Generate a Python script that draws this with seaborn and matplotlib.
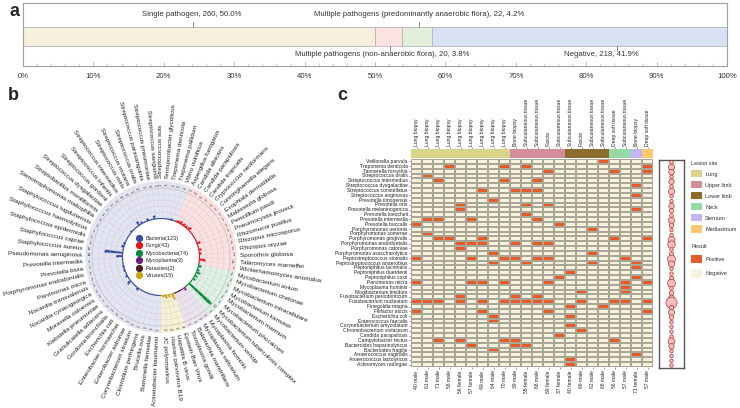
import numpy as np
import pandas as pd
import matplotlib
matplotlib.use('Agg')
import matplotlib.pyplot as plt
import seaborn as sns
from matplotlib.colors import ListedColormap
from matplotlib.patches import Patch
from matplotlib.lines import Line2D
from matplotlib.ticker import MultipleLocator

sns.set_style('white')
plt.rcParams['font.family'] = ['Liberation Sans', 'DejaVu Sans']

# ---------------- data: panel a ----------------
a_groups = ['Single pathogen',
            'Multiple pathogens (non-anaerobic flora)',
            'Multiple pathogens (predominantly anaerobic flora)',
            'Negative']
a_counts = [260, 20, 22, 218]
a_colors = ['#f6f0dc', '#fde2e2', '#e3efda', '#d9e2f3']

# ---------------- data: panel b ----------------
bacteria = ['Acinetobacter baumannii', 'Bartonella henselae', 'Brucella ovis', 'Clostridium perfringens',
            'Corynebacterium striatum', 'Enterobacter asburiae', 'Enterobacter hormaechei', 'Escherichia coli',
            'Gordonia bronchialis', 'Granulicatella adiacens', 'Klebsiella pneumoniae', 'Moraxella osloensis',
            'Nocardia cyriacigeorgica', 'Nocardia transvalensis', 'Parvimonas micra',
            'Porphyromonas endodontalis', 'Prevotella bivia', 'Prevotella intermedia',
            'Pseudomonas aeruginosa', 'Staphylococcus aureus', 'Staphylococcus caprae',
            'Staphylococcus epidermidis', 'Staphylococcus haemolyticus', 'Staphylococcus lugdunensis',
            'Stenotrophomonas maltophilia', 'Streptobacillus moniliformis', 'Streptococcus dysgalactiae',
            'Streptococcus gordonii', 'Streptococcus infantis', 'Streptococcus intermedius',
            'Streptococcus mitis', 'Streptococcus mutans', 'Streptococcus oralis',
            'Streptococcus parasanguinis', 'Streptococcus pneumoniae', 'Streptococcus sanguinis',
            'Streptococcus suis', 'Terrisporobacter glycolicus', 'Treponema denticola',
            'Treponema pallidum', 'Vibrio vulnificus']
bacteria_n = [1, 1, 1, 1, 1, 1, 1, 4, 1, 1, 7, 1, 2, 1, 2, 2, 1, 1, 12, 35, 1,
              5, 3, 1, 1, 1, 2, 1, 1, 8, 3, 1, 4, 1, 6, 1, 1, 1, 1, 2, 1]
fungi = ['Aspergillus fumigatus', 'Candida albicans', 'Candida parapsilosis', 'Candida tropicalis',
         'Cryptococcus neoformans', 'Cunninghamella elegans', 'Exophiala dermatitidis',
         'Malassezia globosa', 'Penicillium pasdi', 'Pneumocystis jirovecii', 'Rhizomucor pusillus',
         'Rhizopus microsporus', 'Rhizopus oryzae', 'Sporothrix globosa', 'Talaromyces marneffei',
         'Wickerhamomyces anomalus']
fungi_n = [3, 4, 3, 2, 5, 1, 1, 1, 1, 5, 1, 2, 2, 1, 10, 1]
mycobacteria = ['Mycobacterium avium', 'Mycobacterium chelonae', 'Mycobacterium intracellulare',
                'Mycobacterium kansasii', 'Mycobacterium marinum', 'Mycobacterium phocaicum',
                'Mycobacterium tuberculosis complex', 'Mycobacterium xenopi']
mycobacteria_n = [4, 2, 5, 2, 2, 1, 57, 1]
mycoplasma = ['Mycoplasma hominis', 'Mycoplasma salivarium']
mycoplasma_n = [2, 1]
parasites = ['Balamuthia mandrillaris', 'Toxoplasma gondii']
parasites_n = [1, 1]
viruses = ['Epstein-Barr Virus', 'Hepatitis B virus', 'Human parvovirus B19', 'JC polyomavirus']
viruses_n = [8, 2, 3, 2]

b_groups = ['Bacteria', 'Fungi', 'Mycobacteria', 'Mycoplasma', 'Parasites', 'Viruses']
b_dark = ['#3a4d9f', '#e8141c', '#0b8a3e', '#6a1f7b', '#4a1f1f', '#c9a21a']
b_light = ['#e3e5f3', '#fbe1e1', '#dff0e4', '#ece2ef', '#ece2ef', '#f8f0d2']

# ---------------- data: panel c ----------------
c_rows = ['Veillonella parvula', 'Treponema denticola', 'Tannerella forsythia', 'Streptococcus oralis',
          'Streptococcus intermedius', 'Streptococcus dysgalactiae', 'Streptococcus constellatus',
          'Streptococcus anginosus', 'Prevotella timonensis', 'Prevotella oris',
          'Prevotella melaninogenica', 'Prevotella loescheii', 'Prevotella intermedia',
          'Prevotella buccalis', 'Porphyromonas uenonis', 'Porphyromonas somerae',
          'Porphyromonas gingivalis', 'Porphyromonas endodontalis', 'Porphyromonas catoniae',
          'Porphyromonas asaccharolytica', 'Peptostreptococcus stomatis',
          'Peptostreptococcus anaerobius', 'Peptoniphilus lacrimalis', 'Peptoniphilus duerdenii',
          'Peptoniphilus coxii', 'Parvimonas micra', 'Mycoplasma hominis', 'Mogibacterium timidum',
          'Fusobacterium periodonticum', 'Fusobacterium nucleatum', 'Finegoldia magna',
          'Filifactor alocis', 'Escherichia coli', 'Enterococcus faecalis',
          'Corynebacterium amycolatum', 'Chromobacterium violaceum', 'Candida parapsilosis',
          'Campylobacter rectus', 'Bacteroides heparinolyticus', 'Bacteroides fragilis',
          'Anaerococcus vaginalis', 'Anaerococcus lactolyticus', 'Actinomyces radingae']
c_samples = ['40 male', '61 male', '71 male', '58 male', '56 female', '57 female', '49 male',
             '64 male', '70 male', '39 male', '55 female', '68 male', '69 female', '37 female',
             '40 female', '69 male', '62 male', '68 male', '56 male', '57 male', '73 female', '57 male']
c_sites = ['Lung biopsy'] * 9 + ['Bone biopsy', 'Subcutaneous tissue', 'Subcutaneous tissue', 'Fascia',
                                 'Subcutaneous tissue', 'Subcutaneous tissue', 'Fascia',
                                 'Subcutaneous tissue', 'Subcutaneous tissue', 'Deep soft tissue',
                                 'Subcutaneous tissue', 'Bone biopsy', 'Deep soft tissue']
c_lesion = ['Lung'] * 9 + ['Upper limb'] * 5 + ['Lower limb'] * 4 + ['Neck'] * 2 + ['Sternum', 'Mediastinum']
lesion_names = ['Lung', 'Upper limb', 'Lower limb', 'Neck', 'Sternum', 'Mediastinum']
lesion_colors = ['#d8d48a', '#d48e99', '#8c6c2c', '#95d9a5', '#c4b3f5', '#fdc86c']
# positive sample columns (1-based) for each organism row
c_positive = [[18], [4, 9, 11, 22], [13, 19, 22], [2], [3, 9, 12], [21], [7, 10, 11, 12], [21], [8],
              [5, 11, 13], [5, 21], [11], [2, 3, 6, 12], [1, 14], [17], [2], [3, 4, 7, 19, 22],
              [5, 6, 7, 10, 12, 13], [5], [8, 17], [1, 6, 9, 10, 12, 13, 20], [8, 11, 17, 21], [21],
              [15], [14, 21], [1, 6, 7, 9, 13, 20, 22], [20], [16, 20], [5, 10, 12],
              [1, 2, 3, 5, 7, 9, 10, 11, 12, 13, 16, 19, 20, 22], [15, 18], [1, 7, 13, 22], [8, 15],
              [8], [15], [16], [14], [3, 5, 9, 10, 19], [6, 10, 11], [8], [21], [15], [15]]
pos_color = '#e85a28'
neg_color = '#f8f3de'

W, H = 740, 408
fig = plt.figure(figsize=(7.4, 4.08), dpi=100)


def box(x0, y0, x1, y1):
    # pixel box (origin top-left) -> figure rect
    return [x0 / W, 1 - y1 / H, (x1 - x0) / W, (y1 - y0) / H]


# ================= panel a =================
ax_a = fig.add_axes(box(23, 3, 727, 66))
pct = np.array(a_counts) / sum(a_counts) * 100
left = np.concatenate([[0], np.cumsum(pct)[:-1]])
ax_a.barh(33.5, pct, left=left, height=19, color=a_colors, edgecolor='#b5b5b5', linewidth=0.6)
ax_a.set_xlim(0, 100)
ax_a.set_ylim(63, 0)
# label anchors (tick position, text position, above/below)
lab_pos = [(24.1, 24.0, 'up'), (52.2, 51.0, 'down'), (56.2, 56.2, 'up'), (84.4, 82.2, 'down')]
for g, n, p, (tx, lx, side) in zip(a_groups, a_counts, pct, lab_pos):
    if side == 'up':
        ax_a.plot([tx, tx], [19, 24], color='#777777', lw=0.6)
        ty = 12
    else:
        ax_a.plot([tx, tx], [43, 48], color='#777777', lw=0.6)
        ty = 51
    ax_a.text(lx, ty, f'{g}, {n}, {p:.1f}%', ha='center', va='center', fontsize=5.6, color='#333333')
ax_a.xaxis.set_minor_locator(MultipleLocator(2))
ax_a.set_xticks(np.arange(0, 101, 10))
ax_a.set_xticklabels([f'{v}%' for v in range(0, 101, 10)], fontsize=5.6, color='#333333')
ax_a.set_yticks([])
ax_a.tick_params(axis='x', which='major', direction='in', length=3, width=0.5, color='#999999', pad=5, bottom=True)
ax_a.tick_params(axis='x', which='minor', direction='in', length=2, width=0.4, color='#aaaaaa', bottom=True)
for s in ax_a.spines.values():
    s.set_color('#a0a0a0')
    s.set_linewidth(0.8)

# ================= panel b =================
cx, cy, R = 161, 257, 76
R0 = 38
ax_b = fig.add_axes(box(cx - R, cy - R, cx + R, cy + R), projection='polar')
ax_b.set_theta_zero_location('N')
ax_b.set_theta_direction(-1)
ax_b.set_ylim(0, R)
ax_b.axis('off')

b_names = [bacteria, fungi, mycobacteria, mycoplasma, parasites, viruses]
b_vals = [bacteria_n, fungi_n, mycobacteria_n, mycoplasma_n, parasites_n, viruses_n]
n_all = sum(len(x) for x in b_names)
w = 2 * np.pi / n_all
start = np.deg2rad(180)
k = 0.5
i0 = 0
for names, vals, dark, light in zip(b_names, b_vals, b_dark, b_light):
    m = len(names)
    vals = np.array(vals)
    t0 = start + i0 * w
    ax_b.bar(t0, R - R0, width=m * w, bottom=R0, align='edge', color=light, edgecolor='none')
    arc = np.linspace(t0, t0 + m * w, 50)
    ax_b.plot(arc, np.full(50, R0 + 0.5), color=dark, lw=0.8)
    th = t0 + (np.arange(m) + 0.5) * w
    ax_b.bar(th, k * vals, width=w * 0.55, bottom=R0 + 0.5, color=dark, edgecolor='none')
    ax_b.scatter(th[vals > 1], R0 + 0.5 + k * vals[vals > 1], s=2.5, color=dark, zorder=4, linewidths=0)
    for t, nm, v in zip(th, names, vals):
        deg = np.rad2deg(t) % 360
        if deg < 180:
            rot, ha = 90 - deg, 'left'
        else:
            rot, ha = 270 - deg, 'right'
        ax_b.text(t, R + 3, nm, rotation=rot, rotation_mode='anchor', ha=ha, va='center',
                  fontsize=4.6, color='#222222')
        ax_b.text(t, R - 3.5, str(v), rotation=rot, rotation_mode='anchor', ha='center', va='center',
                  fontsize=2.8, color='#333333')
    i0 += m

full = np.linspace(0, 2 * np.pi, 500)
for rr in [45, 51, 57, 63]:
    ax_b.plot(full, np.full(500, rr), color='#b8b8b8', lw=0.3, ls=(0, (2, 1.5)))
ax_b.plot(full, np.full(500, R - 7), color='#b0b0b0', lw=0.35)
for j in range(n_all):
    t = start + j * w
    ax_b.plot([t, t], [R0 + 1, R], color='#c5c5c5', lw=0.25, ls=(0, (2, 1.5)))

b_handles = [Line2D([], [], marker='o', ls='none', color=c, markersize=4.2,
                    label=f'{g}({sum(v)})') for g, c, v in zip(b_groups, b_dark, b_vals)]
ax_b.legend(handles=b_handles, loc='center', bbox_to_anchor=(0.5, 0.5), frameon=False,
            fontsize=4.0, handletextpad=0.2, labelspacing=0.45, borderaxespad=0)

# ================= panel c =================
mat = np.zeros((len(c_rows), len(c_samples)), dtype=int)
for i, cols in enumerate(c_positive):
    for j in cols:
        mat[i, j - 1] = 1
df_c = pd.DataFrame(mat, index=c_rows)

ax_c = fig.add_axes(box(411, 159, 653, 367))
sns.heatmap(df_c, ax=ax_c, cmap=ListedColormap([neg_color, pos_color]), vmin=0, vmax=1, cbar=False,
            linewidths=0.35, linecolor='#aaa695', xticklabels=c_samples, yticklabels=c_rows)
ax_c.set_xticklabels(c_samples, rotation=90, fontsize=3.6, color='#222222')
ax_c.set_yticklabels(c_rows, rotation=0, fontsize=3.6, color='#222222')
ax_c.tick_params(axis='both', length=1.5, width=0.4, pad=1, color='#555555', bottom=True, left=True)

ax_s = fig.add_axes(box(411, 149, 653, 158))
site_idx = np.array([[lesion_names.index(l) for l in c_lesion]])
sns.heatmap(site_idx, ax=ax_s, cmap=ListedColormap(lesion_colors), vmin=-0.5, vmax=5.5, cbar=False,
            xticklabels=c_sites, yticklabels=False)
ax_s.tick_params(axis='x', top=True, labeltop=True, bottom=False, labelbottom=False,
                 length=1.5, width=0.4, pad=1, color='#555555')
ax_s.set_xticklabels(c_sites, rotation=90, fontsize=3.6, color='#222222')

ax_p = fig.add_axes(box(659, 160, 684, 368))
row_sum = mat.sum(axis=1)
ax_p.scatter(np.full(len(c_rows), 0.5), np.arange(len(c_rows)) + 0.5, s=4.5 * row_sum + 2,
             color='#f6bcbc', edgecolor='#a03030', linewidths=0.45, zorder=3)
ax_p.set_xlim(0, 1)
ax_p.set_ylim(len(c_rows), 0)
ax_p.set_xticks([])
ax_p.set_yticks([])
for s in ax_p.spines.values():
    s.set_color('#555555')
    s.set_linewidth(1.0)

lesion_handles = [Patch(facecolor=c, edgecolor='none', label=n) for n, c in zip(lesion_names, lesion_colors)]
leg1 = fig.legend(handles=lesion_handles, title='Lesion site', loc='upper left',
                  bbox_to_anchor=(688 / W, 1 - 158 / H), frameon=False, fontsize=4.0,
                  title_fontsize=4.0, alignment='left', handlelength=2.0, handleheight=1.6,
                  labelspacing=0.7, handletextpad=0.5, borderaxespad=0.2)
result_handles = [Patch(facecolor=pos_color, edgecolor='none', label='Positive'),
                  Patch(facecolor=neg_color, edgecolor='none', label='Negative')]
leg2 = fig.legend(handles=result_handles, title='Result', loc='upper left',
                  bbox_to_anchor=(688 / W, 1 - 241 / H), frameon=False, fontsize=4.0,
                  title_fontsize=4.0, alignment='left', handlelength=2.0, handleheight=2.0,
                  labelspacing=1.0, handletextpad=0.5, borderaxespad=0.2)
for lg in (leg1, leg2):
    for t in lg.get_texts():
        t.set_color('#333333')
    lg.get_title().set_color('#333333')

# panel letters
fig.text(10 / W, 1 - 12 / H, 'a', fontsize=13, fontweight='bold', va='center')
fig.text(8 / W, 1 - 96 / H, 'b', fontsize=13, fontweight='bold', va='center')
fig.text(337 / W, 1 - 96 / H, 'c', fontsize=13, fontweight='bold', va='center')

fig.savefig('out.png', dpi=100)
